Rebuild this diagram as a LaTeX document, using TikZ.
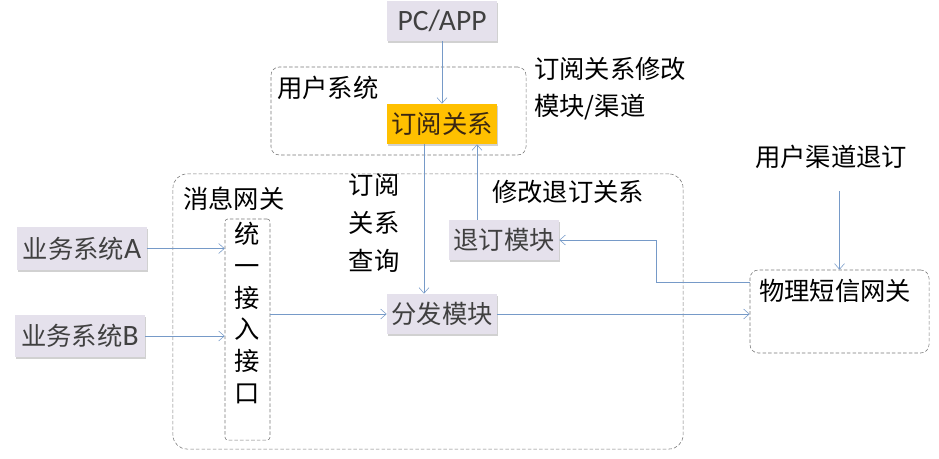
\documentclass[tikz,border=0pt]{standalone}
\usepackage{fontspec}
\setmainfont{Carlito}
\newfontfamily\cjk{Noto Sans CJK SC}
\usetikzlibrary{arrows.meta,shadows}
\definecolor{boxfill}{RGB}{229,225,236}
\definecolor{hlfill}{RGB}{255,192,0}
\definecolor{linkcol}{RGB}{118,154,200}
\definecolor{dashcol}{RGB}{120,120,120}
\definecolor{boxtext}{RGB}{64,64,64}
\tikzset{
  mod/.style={fill=boxfill,text=boxtext,minimum width=2.75cm,minimum height=1cm,inner sep=1pt,
    drop shadow={shadow xshift=1pt,shadow yshift=-1.5pt,fill=black!30,opacity=0.6}},
  hl/.style={mod,fill=hlfill,text=black!70!brown},
  grp/.style={draw=dashcol,dash pattern=on 2.5pt off 1.5pt,rounded corners=6pt,thin},
  lbl/.style={inner sep=0pt},
  link/.style={draw=linkcol,-{Straight Barb[length=4pt,width=7pt]},thin}
}
\begin{document}
\begin{tikzpicture}[x=0.025cm,y=-0.025cm,font=\cjk\fontsize{18}{26}\selectfont]
            \useasboundingbox (0,0) rectangle (939,459);
            % containers
            \node[grp,minimum width=6.375cm,minimum height=2.2cm] (yh) at (398.5,111) {};
            \node[grp,minimum width=12.75cm,minimum height=6.875cm,rounded corners=10pt] (xx) at (428,311.5) {};
            \node[grp,minimum width=1.125cm,minimum height=5.525cm,rounded corners=2pt] (jr) at (247.5,329.5) {};
            \node[grp,minimum width=4.475cm,minimum height=2.075cm] (gw) at (839.5,311.5) {};
            % boxes
            \node[mod,font=\fontspec{Carlito}\fontsize{21}{24}\selectfont] (pc) at (442,21) {PC/APP};
            \node[hl] (dy) at (442,124) {订阅关系};
            \node[mod] (td) at (504,240) {退订模块};
            \node[mod] (ff) at (442,314) {分发模块};
            \node[mod,minimum width=3.25cm,minimum height=1.075cm] (ya) at (82,248.5) {业务系统{\fontspec{Carlito}\fontsize{21}{24}\selectfont A}};
            \node[mod,minimum width=3.25cm,minimum height=1.05cm] (yb) at (80,336) {业务系统{\fontspec{Carlito}\fontsize{21}{24}\selectfont B}};
            % labels
            \node[lbl,anchor=west] (yhl) at (277,88) {用户系统};
            \node[lbl,anchor=west,align=left] (xgl) at (534,88.5) {订阅关系修改\\模块/渠道};
            \node[lbl,anchor=west] (xxl) at (183,199) {消息网关};
            \node[lbl,align=center,font=\cjk\fontsize{18}{27}\selectfont] (cxl) at (374,223) {订阅\\关系\\查询};
            \node[lbl] (tdl) at (568,192) {修改退订关系};
            \node[lbl] (qd) at (831,157) {用户渠道退订};
            \node[lbl] (gwl) at (835,291) {物理短信网关};
            \node[lbl,align=center,font=\cjk\fontsize{18}{22.7}\selectfont] (jrl) at (247.5,313) {统\\一\\接\\入\\接\\口};
            % connectors
            \coordinate (q) at (424,0);
            \coordinate (u) at (477,0);
            \coordinate (tp) at (656,282);
            \draw[link] (pc.south) -- (dy.north);
            \draw[link] (dy.south -| q) -- (ff.north -| q);
            \draw[link] (td.north -| u) -- (dy.south -| u);
            \draw[link] (ya.east) -- (ya.east -| jr.west);
            \draw[link] (yb.east) -- (yb.east -| jr.west);
            \draw[link] (jr.east |- ff.west) -- (ff.west);
            \draw[link] (ff.east) -- (ff.east -| gw.west);
            \draw[link] (tp -| gw.west) -- (tp) |- (td.east);
            \draw[link,shorten <=0.55cm] (qd.south -| gw.north) -- (gw.north);
\end{tikzpicture}
\end{document}
